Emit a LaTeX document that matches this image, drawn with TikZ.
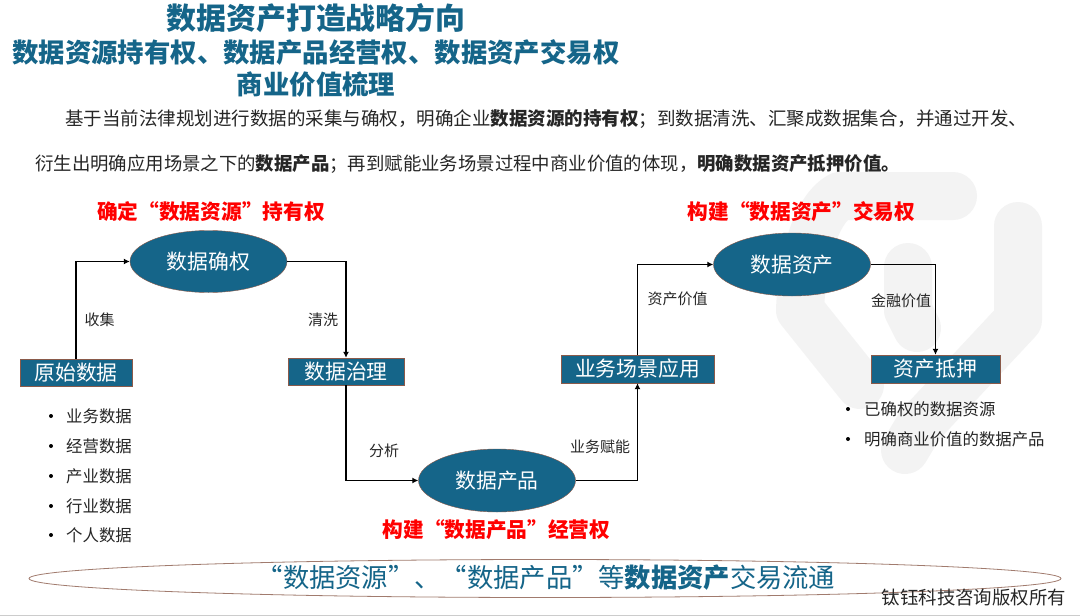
\documentclass[tikz,border=0pt]{standalone}
\usepackage{fontspec}
\setmainfont{Noto Sans CJK SC}
\usetikzlibrary{arrows.meta, shapes.geometric}
\definecolor{deepblue}{HTML}{156589}
\definecolor{edgebrown}{HTML}{8A5A4A}
\definecolor{markgray}{HTML}{F3F3F3}
\tikzset{
    sized/.style={font=\fontsize{#1}{#1}\selectfont},
    plain/.style={inner sep=0pt, text=black!85},
    titletext/.style={inner sep=0pt, text=deepblue, font=\fontsize{#1}{#1}\selectfont\bfseries},
    redtext/.style={inner sep=0pt, text=red, font=\fontsize{20.7}{21}\selectfont\bfseries},
    stage/.style={ellipse, draw=edgebrown, fill=deepblue, text=white, inner sep=0pt,
        minimum width=157pt, minimum height=62pt, font=\fontsize{20.8}{21}\selectfont},
    databox/.style={rectangle, draw=edgebrown, fill=deepblue, text=white, inner sep=0pt,
        minimum height=27pt, font=\fontsize{20.8}{21}\selectfont},
    flow/.style={draw=black, line width=1.4pt, -{Latex[length=6pt,width=6pt]}},
    edgetext/.style={plain, font=\fontsize{15}{15}\selectfont},
    itemtext/.style={plain, anchor=west, font=\fontsize{16.4}{16}\selectfont},
    itemdot/.style={circle, fill=black, inner sep=0pt, minimum size=4pt},
    markline/.style={draw=markgray, line width=48pt, line cap=round, line join=round}
}

\begin{document}
\begin{tikzpicture}[x=1pt, y=-1pt]
    \useasboundingbox (0,0) rectangle (1080,616);
    \fill[white] (0,0) rectangle (1080,616);
    \fill[black!20] (0,614.5) rectangle (1080,616);

    % watermark
    \draw[markline] (953,196) -- (840,196) .. controls (815,210) and (802,260) .. (800,310)
        -- (860,385);
    \draw[markline] (1018,226) -- (1018,320) -- (920,425) -- (905,450);
    \draw[markline] (908,267) -- (908,310) -- (917,328);

    % titles
    \node[titletext=29.9] (title1) at (316,18) {数据资产打造战略方向};
    \node[titletext=26.4] (title2) at (316,52) {数据资源持有权、数据产品经营权、数据资产交易权};
    \node[titletext=26.4] (title3) at (316,84) {商业价值梳理};

    \node[plain, anchor=west, sized=18.5] (intro1) at (65,119) {基于当前法律规划进行数据的采集与确权，明确企业\textbf{数据资源的持有权}；到数据清洗、汇聚成数据集合，并通过开发、};
    \node[plain, anchor=west, sized=18.4] (intro2) at (35,164) {衍生出明确应用场景之下的\textbf{数据产品}；再到赋能业务场景过程中商业价值的体现，\textbf{明确数据资产抵押价值。}};

    % red headings
    \node[redtext] (head1) at (211,212) {确定“数据资源”持有权};
    \node[redtext] (head2) at (496.5,530) {构建“数据产品”经营权};
    \node[redtext] (head3) at (801.5,212) {构建“数据资产”交易权};

    % flow nodes
    \node[databox, minimum width=112pt] (rawdata) at (76,372.5) {原始数据};
    \node[stage] (confirm) at (208.5,261.5) {数据确权};
    \node[databox, minimum width=116pt] (govern) at (346,371.5) {数据治理};
    \node[stage, minimum height=63pt] (product) at (497,480.5) {数据产品};
    \node[databox, minimum width=153pt, minimum height=28pt] (scene) at (637.5,369) {业务场景应用};
    \node[stage, minimum height=63pt] (asset) at (792,264.5) {数据资产};
    \node[databox, minimum width=129pt, minimum height=28pt] (pledge) at (935.5,369) {资产抵押};

    % connectors
    \draw[flow] (rawdata.north) |- (confirm.west);
    \draw[flow] (confirm.east) -| (govern.north);
    \draw[flow] (govern.south) |- (product.west);
    \draw[flow] (product.east) -| (scene.south);
    \draw[flow] (scene.north) |- (asset.west);
    \draw[flow] (asset.east) -| (pledge.north);

    % connector labels
    \node[edgetext] (lab1) at (99.5,320) {收集};
    \node[edgetext] (lab2) at (323,320) {清洗};
    \node[edgetext] (lab3) at (384,451) {分析};
    \node[edgetext] (lab4) at (600,447) {业务赋能};
    \node[edgetext] (lab5) at (677.5,299) {资产价值};
    \node[edgetext] (lab6) at (901,301) {金融价值};

    % bullet lists
    \foreach \i/\ypos/\word in {1/416/业务数据, 2/446/经营数据, 3/476/产业数据, 4/506/行业数据, 5/535/个人数据} {
        \node[itemdot] (rawdot\i) at (51,\ypos) {};
        \node[itemtext] (rawitem\i) at (66,\ypos) {\word};
    }
    \foreach \i/\ypos/\word in {1/409/已确权的数据资源, 2/439/明确商业价值的数据产品} {
        \node[itemdot] (pledgedot\i) at (848,\ypos) {};
        \node[itemtext] (pledgeitem\i) at (864,\ypos) {\word};
    }

    % bottom band
    \node[ellipse, draw=edgebrown!80, fill=white, line width=0.8pt, inner sep=0pt,
        minimum width=1032pt, minimum height=38pt] (band) at (545,578.5) {};
    \node[inner sep=0pt, text=deepblue, sized=26.3] (bandtext) at (546,578) {“数据资源”、“数据产品”等\textbf{数据资产}交易流通};
    \node[plain, anchor=east, sized=18.4] (rights) at (1066,598) {钛钰科技咨询版权所有};
\end{tikzpicture}
\end{document}
